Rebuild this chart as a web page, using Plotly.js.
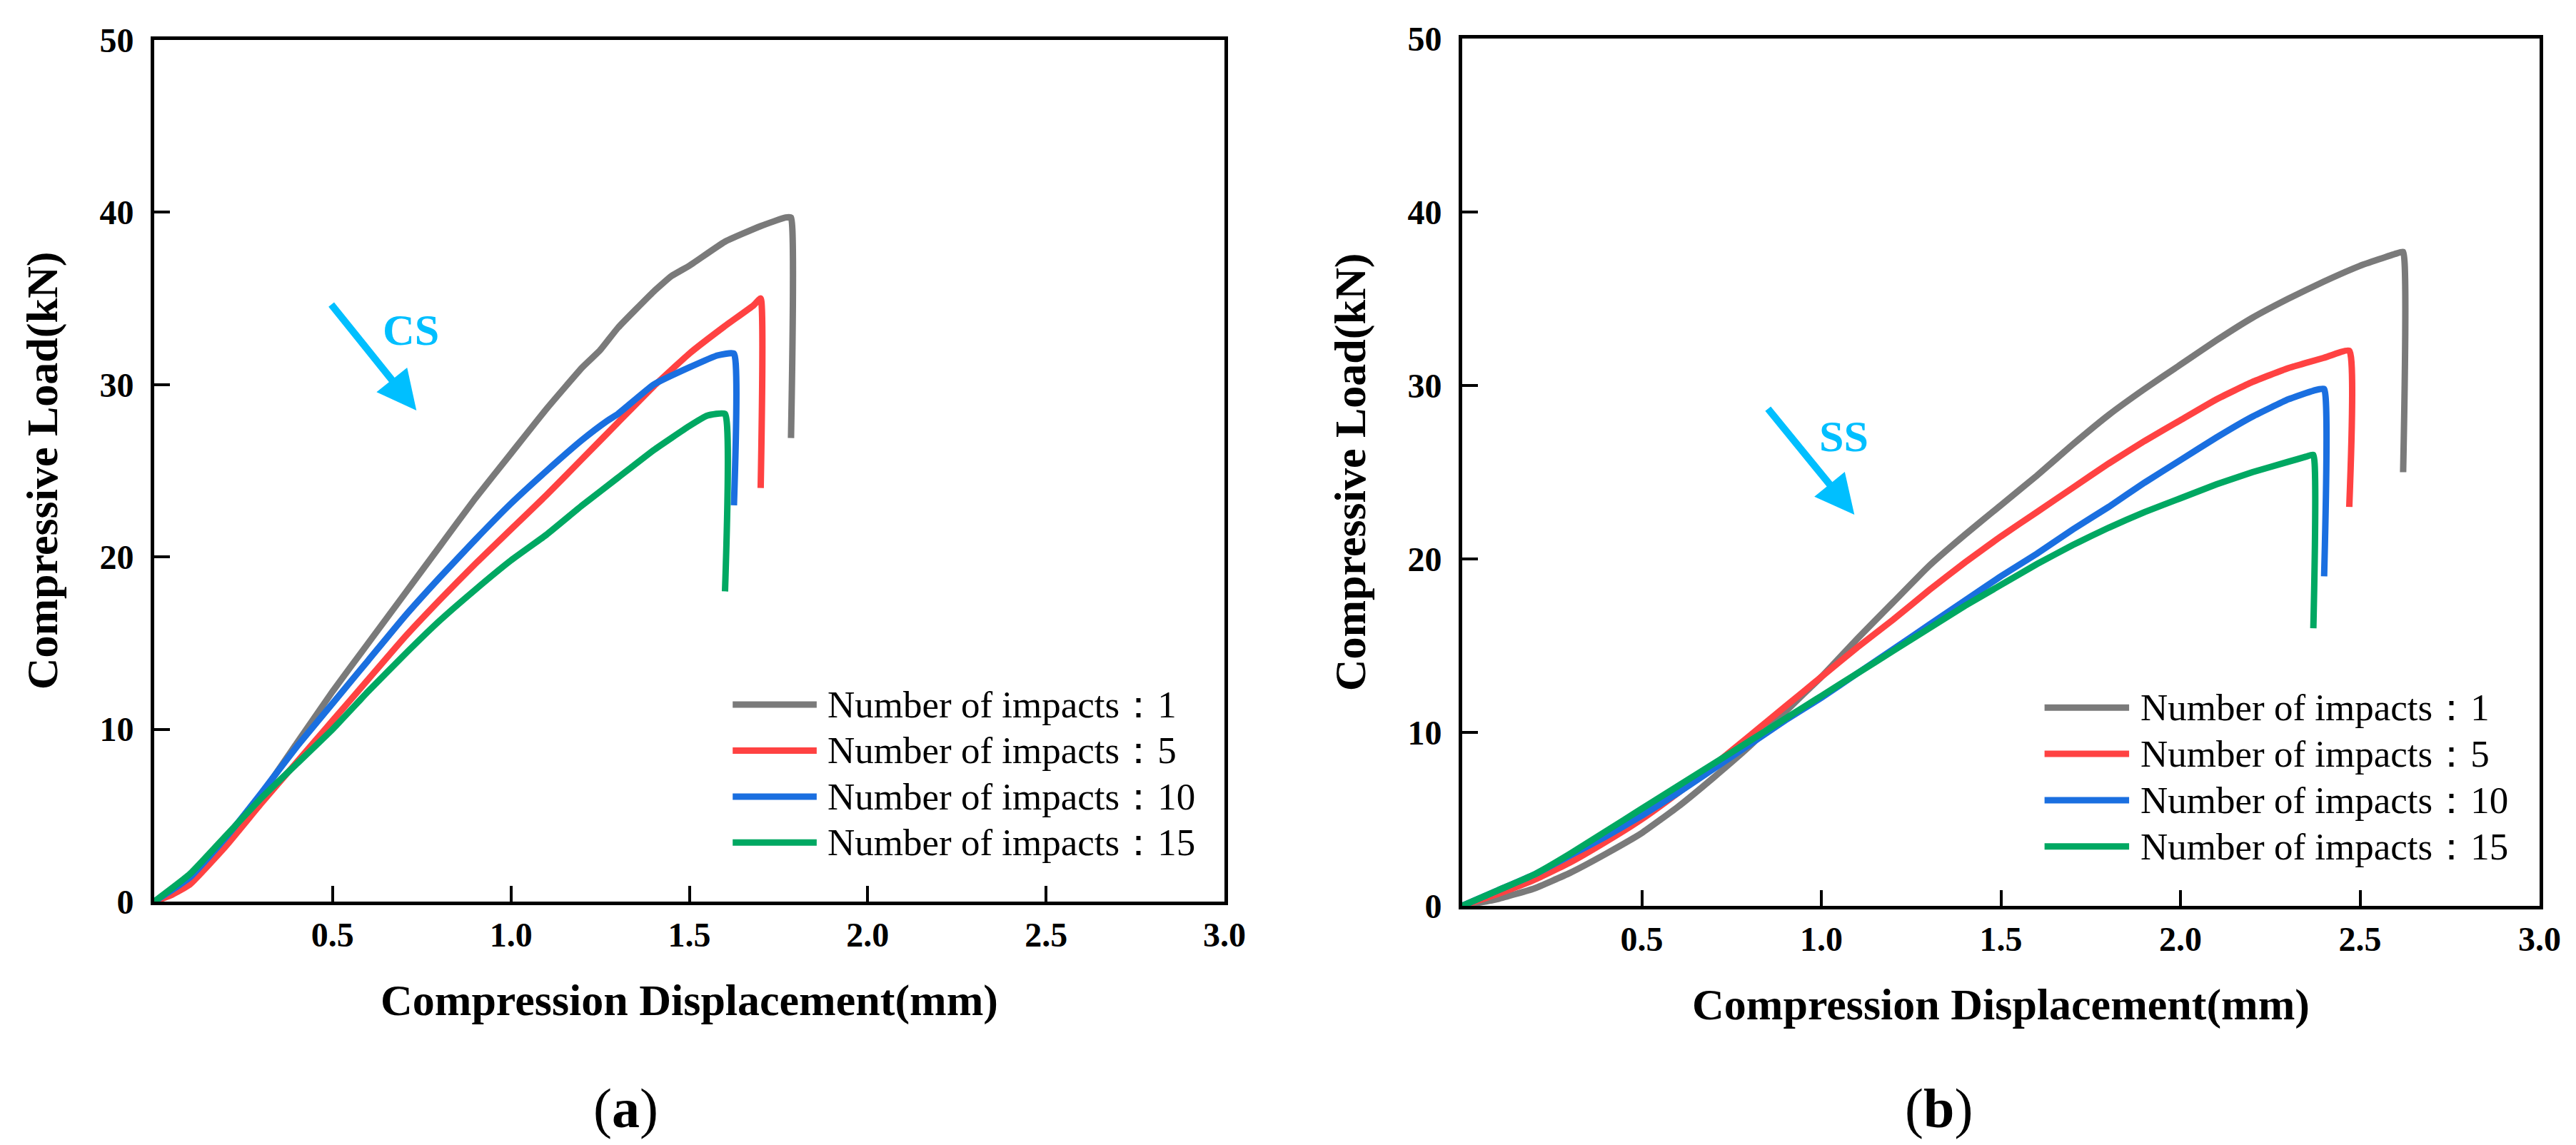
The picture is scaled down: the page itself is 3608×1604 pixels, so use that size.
<!DOCTYPE html>
<html>
<head>
<meta charset="utf-8">
<script src="https://cdn.plot.ly/plotly-3.0.1.min.js"></script>
<style>html,body{margin:0;padding:0;background:#fff;}#chart{width:3608px;height:1604px;}</style>
</head>
<body>
<div id="chart"></div>
<script>
// ---------- Data ----------
const seriesNames = ["Number of impacts：1", "Number of impacts：5", "Number of impacts：10", "Number of impacts：15"];
const seriesColors = ["#7a7a7a", "#ff4242", "#1a6fe0", "#00a862"];

// Panel (a) CS
const csX1 = [0, 0.1, 0.2, 0.3, 0.4, 0.5, 0.6, 0.7, 0.8, 0.9, 1.0, 1.1, 1.2, 1.25, 1.3, 1.4, 1.45, 1.5, 1.6, 1.7, 1.77, 1.785, 1.785];
const csY1 = [0, 1.2, 3.5, 6.2, 9.2, 12.2, 15.0, 17.8, 20.6, 23.4, 26.0, 28.6, 31.0, 32.0, 33.3, 35.4, 36.3, 36.9, 38.3, 39.2, 39.7, 39.7, 26.9];
const csX5 = [0, 0.05, 0.1, 0.2, 0.3, 0.4, 0.5, 0.6, 0.7, 0.8, 0.9, 1.0, 1.1, 1.2, 1.3, 1.4, 1.5, 1.6, 1.68, 1.70, 1.70];
const csY5 = [0, 0.4, 1.0, 3.2, 5.7, 8.1, 10.5, 12.9, 15.3, 17.5, 19.6, 21.6, 23.6, 25.7, 27.8, 29.9, 31.8, 33.4, 34.6, 35.0, 24.0];
const csX10 = [0, 0.1, 0.2, 0.3, 0.4, 0.5, 0.6, 0.7, 0.8, 0.9, 1.0, 1.1, 1.2, 1.27, 1.3, 1.4, 1.5, 1.58, 1.625, 1.625];
const csY10 = [0, 1.4, 3.7, 6.3, 9.0, 11.5, 14.0, 16.5, 18.8, 21.0, 23.1, 25.0, 26.8, 27.9, 28.3, 30.0, 31.0, 31.7, 31.8, 23.0];
const csX15 = [0, 0.1, 0.2, 0.3, 0.4, 0.5, 0.6, 0.7, 0.8, 0.9, 1.0, 1.1, 1.2, 1.3, 1.4, 1.5, 1.55, 1.6, 1.6];
const csY15 = [0, 1.6, 3.8, 6.0, 8.0, 10.0, 12.2, 14.3, 16.3, 18.1, 19.8, 21.3, 23.0, 24.6, 26.2, 27.6, 28.2, 28.3, 18.0];

// Panel (b) SS
const ssX1 = [0, 0.1, 0.2, 0.3, 0.4, 0.5, 0.6, 0.7, 0.8, 0.9, 1.0, 1.1, 1.2, 1.3, 1.4, 1.5, 1.6, 1.7, 1.8, 1.9, 2.0, 2.1, 2.2, 2.3, 2.4, 2.5, 2.6, 2.62, 2.62];
const ssY1 = [0, 0.4, 1.0, 1.9, 3.0, 4.2, 5.7, 7.4, 9.2, 11.2, 13.2, 15.4, 17.5, 19.6, 21.4, 23.1, 24.8, 26.6, 28.3, 29.8, 31.2, 32.6, 33.9, 35.0, 36.0, 36.9, 37.6, 37.7, 25.0];
const ssX5 = [0, 0.1, 0.2, 0.3, 0.4, 0.5, 0.6, 0.7, 0.8, 0.9, 1.0, 1.1, 1.2, 1.3, 1.4, 1.5, 1.6, 1.7, 1.8, 1.9, 2.0, 2.1, 2.2, 2.3, 2.4, 2.47, 2.47];
const ssY5 = [0, 0.7, 1.5, 2.5, 3.7, 5.0, 6.5, 8.1, 9.8, 11.5, 13.2, 14.9, 16.5, 18.2, 19.8, 21.3, 22.7, 24.1, 25.5, 26.8, 28.0, 29.2, 30.2, 31.0, 31.6, 32.0, 23.0];
const ssX10 = [0, 0.1, 0.2, 0.3, 0.4, 0.5, 0.6, 0.7, 0.8, 0.9, 1.0, 1.1, 1.2, 1.3, 1.4, 1.5, 1.6, 1.7, 1.8, 1.9, 2.0, 2.1, 2.2, 2.3, 2.37, 2.40, 2.40];
const ssY10 = [0, 0.9, 1.8, 2.9, 4.0, 5.2, 6.5, 7.9, 9.3, 10.7, 12.0, 13.4, 14.8, 16.2, 17.6, 19.0, 20.3, 21.7, 23.0, 24.4, 25.7, 27.0, 28.2, 29.2, 29.7, 29.8, 19.0];
const ssX15 = [0, 0.1, 0.2, 0.3, 0.4, 0.5, 0.6, 0.7, 0.8, 0.9, 1.0, 1.1, 1.2, 1.3, 1.4, 1.5, 1.6, 1.7, 1.8, 1.9, 2.0, 2.1, 2.2, 2.3, 2.35, 2.37, 2.37];
const ssY15 = [0, 0.9, 1.8, 3.0, 4.3, 5.6, 6.9, 8.2, 9.5, 10.8, 12.1, 13.4, 14.7, 16.0, 17.3, 18.5, 19.7, 20.8, 21.8, 22.7, 23.5, 24.3, 25.0, 25.6, 25.9, 26.0, 16.0];

const xTickVals = [0.5, 1.0, 1.5, 2.0, 2.5, 3.0];
const xTickText = ["0.5", "1.0", "1.5", "2.0", "2.5", "3.0"];
const yTickVals = [0, 10, 20, 30, 40, 50];
const yTickText = ["0", "10", "20", "30", "40", "50"];
const panelLabels = ["(<b>a</b>)", "(<b>b</b>)"];
const groupLabels = ["CS", "SS"];

// ---------- Build ----------
const SERIF = "Liberation Serif";
const csX = [csX1, csX5, csX10, csX15], csY = [csY1, csY5, csY10, csY15];
const ssX = [ssX1, ssX5, ssX10, ssX15], ssY = [ssY1, ssY5, ssY10, ssY15];

const traces = [];
for (let i = 0; i < 4; i++) {
  traces.push({x: csX[i], y: csY[i], xaxis: 'x', yaxis: 'y', type: 'scatter', mode: 'lines',
    name: seriesNames[i], showlegend: false, line: {color: seriesColors[i], width: 9, shape: 'spline', smoothing: 0.4}});
}
for (let i = 0; i < 4; i++) {
  traces.push({x: ssX[i], y: ssY[i], xaxis: 'x2', yaxis: 'y2', type: 'scatter', mode: 'lines',
    name: seriesNames[i], showlegend: false, line: {color: seriesColors[i], width: 9, shape: 'spline', smoothing: 0.4}});
}

function bold(arr) { return arr.map(function (t) { return '<b>' + t + '</b>'; }); }

function xAxis(domain, anchor) {
  return {domain: domain, anchor: anchor, range: [0, 3], tickvals: xTickVals, ticktext: bold(xTickText),
    showline: true, mirror: true, linecolor: '#000', linewidth: 5, ticks: 'inside', ticklen: 22, tickwidth: 4,
    tickcolor: '#000', showgrid: false, zeroline: false, fixedrange: true,
    tickfont: {family: SERIF, size: 48, color: '#000'},
    title: {text: '<b>Compression Displacement(mm)</b>', font: {family: SERIF, size: 62, color: '#000'}, standoff: 45}};
}
function yAxis(domain, anchor) {
  return {domain: domain, anchor: anchor, range: [0, 50], tickvals: yTickVals, ticktext: bold(yTickText),
    showline: true, mirror: true, linecolor: '#000', linewidth: 5, ticks: 'inside', ticklen: 22, tickwidth: 4,
    tickcolor: '#000', showgrid: false, zeroline: false, fixedrange: true, ticklabelstandoff: 14,
    tickfont: {family: SERIF, size: 48, color: '#000'},
    title: {text: '<b>Compressive Load(kN)</b>', font: {family: SERIF, size: 62, color: '#000'}, standoff: 40}};
}

const shapes = [], annotations = [];
const legX0 = 0.5405, legX1 = 0.619, legTX = 0.628;
const legY = [0.2287, 0.1753, 0.1218, 0.0686];
[['x', 'y'], ['x2', 'y2']].forEach(function (ax) {
  for (let i = 0; i < 4; i++) {
    shapes.push({type: 'line', xref: ax[0] + ' domain', yref: ax[1] + ' domain', x0: legX0, x1: legX1, y0: legY[i], y1: legY[i],
      line: {color: seriesColors[i], width: 9}});
    annotations.push({xref: ax[0] + ' domain', yref: ax[1] + ' domain', x: legTX, y: legY[i], xanchor: 'left', yanchor: 'middle',
      text: seriesNames[i], showarrow: false, font: {family: SERIF, size: 53, color: '#000'}});
  }
});

// arrows and group labels
const ARROWC = '#00bfff';
annotations.push({xref: 'x', yref: 'y', axref: 'x', ayref: 'y', x: 0.735, y: 28.5, ax: 0.494, ay: 34.71, text: '',
  showarrow: true, arrowhead: 2, arrowsize: 1.1, arrowwidth: 10, arrowcolor: ARROWC});
annotations.push({xref: 'x', yref: 'y', x: 0.7185, y: 33.18, text: '<b>' + groupLabels[0] + '</b>', showarrow: false,
  font: {family: SERIF, size: 62, color: ARROWC}});
annotations.push({xref: 'x2', yref: 'y2', axref: 'x2', ayref: 'y2', x: 1.092, y: 22.55, ax: 0.849, ay: 28.72, text: '',
  showarrow: true, arrowhead: 2, arrowsize: 1.1, arrowwidth: 10, arrowcolor: ARROWC});
annotations.push({xref: 'x2', yref: 'y2', x: 1.062, y: 27.08, text: '<b>' + groupLabels[1] + '</b>', showarrow: false,
  font: {family: SERIF, size: 62, color: ARROWC}});

// panel labels
annotations.push({xref: 'paper', yref: 'paper', x: 0.2428, y: 0.0318, text: panelLabels[0], showarrow: false,
  xanchor: 'center', yanchor: 'middle', font: {family: SERIF, size: 78, color: '#000'}});
annotations.push({xref: 'paper', yref: 'paper', x: 0.7527, y: 0.0318, text: panelLabels[1], showarrow: false,
  xanchor: 'center', yanchor: 'middle', font: {family: SERIF, size: 78, color: '#000'}});

const layout = {
  width: 3608, height: 1604, margin: {l: 0, r: 0, t: 0, b: 0}, paper_bgcolor: '#fff', plot_bgcolor: '#fff',
  showlegend: false,
  xaxis: xAxis([0.05987, 0.47533], 'y'),
  yaxis: yAxis([0.21259, 0.96509], 'x'),
  xaxis2: xAxis([0.56763, 0.98587], 'y2'),
  yaxis2: yAxis([0.20885, 0.96633], 'x2'),
  shapes: shapes, annotations: annotations
};

Plotly.newPlot('chart', traces, layout, {displayModeBar: false, staticPlot: true});
</script>
</body>
</html>
